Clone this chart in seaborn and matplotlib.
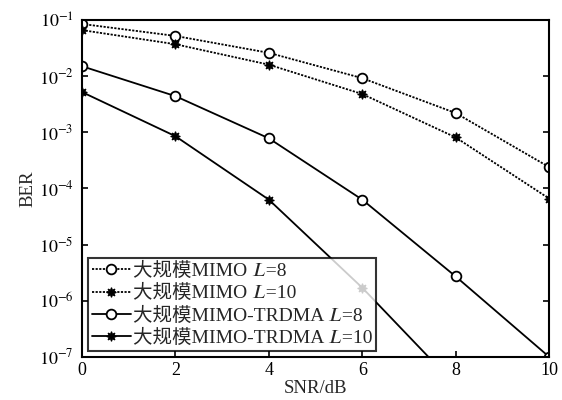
import numpy as np
import pandas as pd
import matplotlib
matplotlib.use("Agg")
import matplotlib.pyplot as plt
import seaborn as sns

snr = [0, 2, 4, 6, 8, 10]
ber_mimo_l8 = [0.085, 0.052, 0.026, 0.0092, 0.0022, 2.4e-4]
ber_mimo_l10 = [0.066, 0.037, 0.016, 0.0048, 8.1e-4, 6.6e-5]
ber_trdma_l8 = [0.015, 0.0044, 7.8e-4, 6.3e-5, 2.7e-6, 1.0e-7]
ber_trdma_l10 = [0.0052, 8.5e-4, 6.3e-5, 1.7e-6, 3.1e-8, 5e-10]
# italic L via the mathematical italic capital letter
L = "\U0001D43F"
labels = [f"大规模MIMO {L}=8", f"大规模MIMO {L}=10",
          f"大规模MIMO-TRDMA {L}=8", f"大规模MIMO-TRDMA {L}=10"]
yticks = [1e-7, 1e-6, 1e-5, 1e-4, 1e-3, 1e-2, 1e-1]
xticks = [0, 2, 4, 6, 8, 10]

sns.set_theme(style="white")
plt.rcParams["font.family"] = ["Liberation Serif", "Noto Sans CJK SC", "STIXGeneral", "DejaVu Serif"]
plt.rcParams["mathtext.fontset"] = "stix"

fig, ax = plt.subplots(figsize=(5.62, 4.0), dpi=100)
fig.subplots_adjust(left=0.146, right=0.977, top=0.95, bottom=0.108)

series = [ber_mimo_l8, ber_mimo_l10, ber_trdma_l8, ber_trdma_l10]
star = (8, 1, 0)
styles = [
    dict(linestyle=(0, (1.2, 0.8)), marker="o", mfc="white", ms=7, mew=1.3),
    dict(linestyle=(0, (1.2, 0.8)), marker=star, mfc="black", ms=7, mew=0.8),
    dict(linestyle="-", marker="o", mfc="white", ms=7, mew=1.3),
    dict(linestyle="-", marker=star, mfc="black", ms=7, mew=0.8),
]
for vals, lab, st in zip(series, labels, styles):
    df = pd.DataFrame({"SNR": snr, "BER": vals})
    sns.lineplot(data=df, x="SNR", y="BER", ax=ax, color="black", lw=1.3,
                 mec="black", label=lab, **st)

ax.set_yscale("log")
ax.set_xlim(0, 10)
ax.set_ylim(1e-7, 1e-1)
ax.set_yticks(yticks)
ax.set_xticks(xticks)
ax.minorticks_off()
ax.set_yticklabels([r"$10^{%d}$" % int(np.log10(v)) for v in yticks])
ax.tick_params(direction="in", length=4, width=1.2, labelsize=13,
               left=True, bottom=True, right=True, colors="black")
ax.tick_params(axis="y", pad=6)
for sp in ax.spines.values():
    sp.set_color("black")
    sp.set_linewidth(1.5)
ax.set_xlabel("SNR/dB", fontsize=13.5, labelpad=1)
ax.set_ylabel("BER", fontsize=13.5, labelpad=2)

leg = ax.legend(loc="lower left", fontsize=14, frameon=True, fancybox=False,
                borderpad=0.2, labelspacing=0.22, handlelength=2.0,
                handletextpad=0.1, borderaxespad=0.3, edgecolor="black")
leg.get_frame().set_linewidth(1.5)

fig.savefig("out.png", dpi=100)
